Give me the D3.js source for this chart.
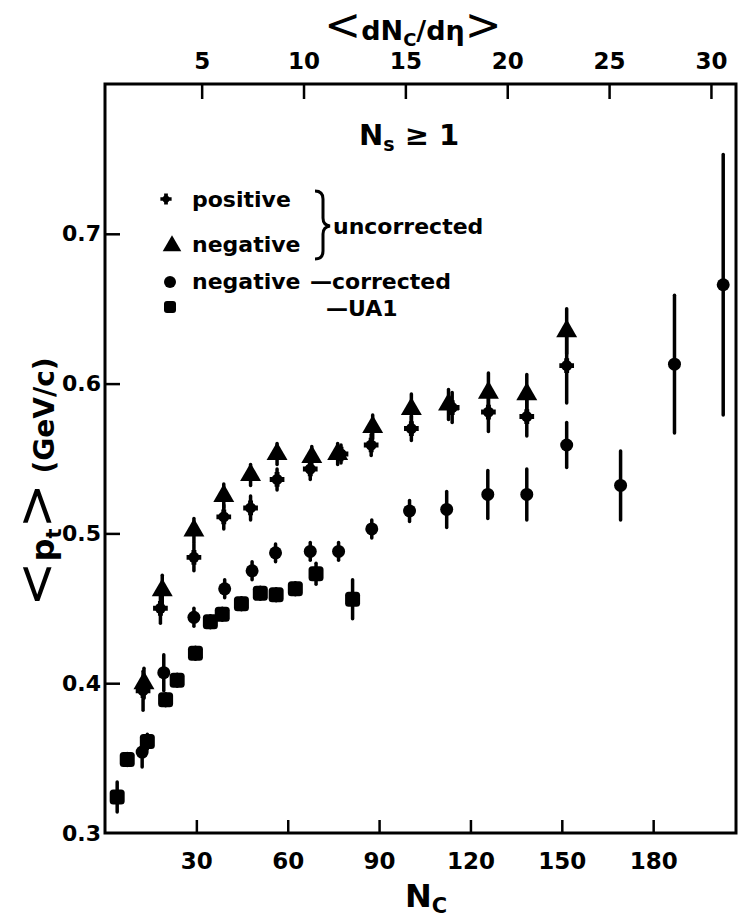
<!DOCTYPE html>
<meta charset="utf-8">
<head>
<style>
  body { margin: 0; background: #fff; }
  svg { display: block; }
  text { font-family: "DejaVu Sans", sans-serif; font-weight: bold; fill: #000; }
  .axis path { display: none; }
  .axis line { stroke: #000; stroke-width: 2.5; }
  .axis text { font-size: 23px; }
</style>
</head>
<body>
<script src="https://cdn.jsdelivr.net/npm/d3@7"></script>
<script>
// positive, uncorrected
var posN   = [12.5, 18.2, 29.2, 39.0, 47.8, 56.5, 67.4, 77.5, 87.4, 100.6, 114.0, 125.9, 138.5, 151.6];
var posP   = [0.395, 0.450, 0.484, 0.511, 0.517, 0.536, 0.543, 0.553, 0.559, 0.570, 0.584, 0.581, 0.578, 0.612];
var posErr = [0.013, 0.010, 0.009, 0.008, 0.008, 0.007, 0.007, 0.006, 0.007, 0.008, 0.010, 0.013, 0.013, 0.025];
// negative, uncorrected
var negN   = [12.8, 18.8, 29.2, 39.0, 47.8, 56.5, 67.9, 76.4, 87.9, 100.6, 112.8, 125.9, 138.5, 151.6];
var negP   = [0.400, 0.462, 0.502, 0.525, 0.539, 0.553, 0.551, 0.553, 0.571, 0.583, 0.586, 0.594, 0.593, 0.635];
var negErr = [0.010, 0.010, 0.008, 0.008, 0.007, 0.007, 0.007, 0.007, 0.008, 0.010, 0.010, 0.013, 0.013, 0.015];
// negative, corrected
var corN   = [12.2, 19.3, 29.2, 39.3, 48.3, 56.0, 67.4, 76.7, 87.6, 100.0, 112.2, 125.7, 138.5, 151.6, 169.3, 187.0, 203.0];
var corP   = [0.354, 0.407, 0.444, 0.463, 0.475, 0.487, 0.488, 0.488, 0.503, 0.515, 0.516, 0.526, 0.526, 0.559, 0.532, 0.613, 0.666];
var corErr = [0.010, 0.012, 0.006, 0.006, 0.006, 0.006, 0.006, 0.006, 0.006, 0.007, 0.012, 0.016, 0.017, 0.015, 0.023, 0.046, 0.087];
// UA1
var ua1N   = [4.0, 7.3, 13.9, 19.9, 23.7, 29.7, 34.6, 38.5, 44.8, 51.0, 56.2, 62.5, 69.3, 81.3];
var ua1P   = [0.324, 0.349, 0.361, 0.389, 0.402, 0.420, 0.441, 0.446, 0.453, 0.460, 0.459, 0.463, 0.473, 0.456];
var ua1Err = [0.010, 0.004, 0.005, 0.004, 0.004, 0.004, 0.004, 0.004, 0.004, 0.004, 0.004, 0.004, 0.007, 0.013];

var xTicks = [30, 60, 90, 120, 150, 180];
var topTicks = [5, 10, 15, 20, 25, 30];
var yTicks = [0.3, 0.4, 0.5, 0.6, 0.7];

var W = 739, H = 922;
var pl = 105, pr = 736, pt = 84, pb = 833;   // plot box edges

var svg = d3.select("body").append("svg").attr("width", W).attr("height", H);

var x = d3.scaleLinear().domain([0, 207.2]).range([pl, pr]);
var xTop = d3.scaleLinear().domain([0.255, 31.23]).range([pl, pr]);
var y = d3.scaleLinear().domain([0.3, 0.8]).range([pb, pt]);

// frame
svg.append("rect")
    .attr("x", pl).attr("y", pt)
    .attr("width", pr - pl).attr("height", pb - pt)
    .attr("fill", "none").attr("stroke", "#000").attr("stroke-width", 3);

svg.append("g").attr("class", "axis")
    .attr("transform", "translate(0," + pb + ")")
    .call(d3.axisBottom(x).tickValues(xTicks).tickSizeInner(-13).tickSizeOuter(0).tickPadding(20));

svg.append("g").attr("class", "axis")
    .attr("transform", "translate(0," + pt + ")")
    .call(d3.axisTop(xTop).tickValues(topTicks).tickSizeInner(-15).tickSizeOuter(0).tickPadding(15));

var gy = svg.append("g").attr("class", "axis")
    .attr("transform", "translate(" + pl + ",0)")
    .call(d3.axisLeft(y).tickValues(yTicks).tickFormat(d3.format(".1f")).tickSizeInner(-15).tickSizeOuter(0).tickPadding(4));
gy.selectAll("text").style("font-size", "22px");
gy.selectAll(".tick").filter(function(d) { return d === 0.3; }).select("line").remove();

// data helpers
function pts(N, P, E) {
    return N.map(function(n, i) { return {n: n, p: P[i], e: E[i]}; });
}
var pos = pts(posN, posP, posErr), neg = pts(negN, negP, negErr),
    cor = pts(corN, corP, corErr), ua1 = pts(ua1N, ua1P, ua1Err);

var bars = svg.append("g").attr("stroke", "#000").attr("stroke-width", 3.5).attr("stroke-linecap", "round");
[pos, neg, cor, ua1].forEach(function(set) {
    bars.selectAll(null).data(set).enter().append("line")
        .attr("x1", function(d) { return x(d.n); })
        .attr("x2", function(d) { return x(d.n); })
        .attr("y1", function(d) { return y(d.p - d.e); })
        .attr("y2", function(d) { return y(d.p + d.e); });
});

var marks = svg.append("g").attr("fill", "#000");

marks.selectAll(null).data(ua1).enter().append("rect")
    .attr("x", function(d) { return x(d.n) - 7.5; })
    .attr("y", function(d) { return y(d.p) - 7.5; })
    .attr("width", 15).attr("height", 15).attr("rx", 3.5);

marks.selectAll(null).data(cor).enter().append("circle")
    .attr("cx", function(d) { return x(d.n); })
    .attr("cy", function(d) { return y(d.p); })
    .attr("r", 6.5);

var cross = d3.symbol().type(d3.symbolCross).size(120);
marks.selectAll(null).data(pos).enter().append("g")
    .attr("transform", function(d) { return "translate(" + x(d.n) + "," + y(d.p) + ")"; })
    .each(function() {
        d3.select(this).append("path").attr("d", cross());
        d3.select(this).append("circle").attr("r", 5.5);
    });

var tri = d3.symbol().type(d3.symbolTriangle).size(190);
marks.selectAll(null).data(neg).enter().append("path")
    .attr("transform", function(d) { return "translate(" + x(d.n) + "," + y(d.p) + ")"; })
    .attr("d", tri());

// legend
var lg = svg.append("g");
var lcross = d3.symbol().type(d3.symbolCross).size(70);
lg.append("path").attr("d", lcross()).attr("transform", "translate(166,199)");
lg.append("circle").attr("cx", 166).attr("cy", 199).attr("r", 3.5);
lg.append("path").attr("d", d3.symbol().type(d3.symbolTriangle).size(150)()).attr("transform", "translate(172,246)");
lg.append("circle").attr("cx", 170).attr("cy", 282).attr("r", 6);
lg.append("rect").attr("x", 164).attr("y", 301).attr("width", 12).attr("height", 12).attr("rx", 3);

lg.append("text").attr("x", 192).attr("y", 207).style("font-size", "22px").text("positive");
lg.append("text").attr("x", 192).attr("y", 252).style("font-size", "22px").text("negative");
lg.append("text").attr("x", 192).attr("y", 289).style("font-size", "22px").text("negative");
lg.append("text").attr("x", 310).attr("y", 289).style("font-size", "22px").text("—corrected");
lg.append("text").attr("x", 326).attr("y", 316).style("font-size", "22px").text("—UA1");
lg.append("text").attr("x", 333).attr("y", 234).style("font-size", "22px").text("uncorrected");
// brace
lg.append("path")
    .attr("d", "M315,191 Q323,191 323,199 L323,218 Q323,225 330,226 Q323,227 323,234 L323,251 Q323,259 315,259")
    .attr("fill", "none").attr("stroke", "#000").attr("stroke-width", 3);

// N_s >= 1
var ns = svg.append("text").attr("x", 359).attr("y", 145).style("font-size", "29px");
ns.append("tspan").text("N");
ns.append("tspan").attr("dy", 6).style("font-size", "19px").text("s");
ns.append("tspan").attr("dy", -6).text(" ≥ 1");

// top title
var tt = svg.append("text").attr("x", 413).attr("y", 40).attr("text-anchor", "middle");
tt.append("tspan").style("font-size", "44px").style("font-weight", "normal").text("<");
tt.append("tspan").style("font-size", "27px").text("dN");
tt.append("tspan").attr("dy", 6).style("font-size", "18px").text("C");
tt.append("tspan").attr("dy", -6).style("font-size", "27px").text("/dη");
tt.append("tspan").style("font-size", "44px").style("font-weight", "normal").text(">");

// bottom title
var bt = svg.append("text").attr("x", 426).attr("y", 907).attr("text-anchor", "middle").style("font-size", "32px");
bt.append("tspan").text("N");
bt.append("tspan").attr("dy", 6).style("font-size", "21px").text("C");

// y title
var yt = svg.append("text").attr("transform", "translate(54,482) rotate(-90)").attr("text-anchor", "middle");
yt.append("tspan").style("font-size", "54px").style("font-weight", "normal").text("<");
yt.append("tspan").style("font-size", "32px").text("p");
yt.append("tspan").attr("dy", 7).style("font-size", "21px").text("t");
yt.append("tspan").attr("dy", -7).style("font-size", "54px").style("font-weight", "normal").text(">");
yt.append("tspan").style("font-size", "28px").text(" (GeV/c)");
</script>
</body>
